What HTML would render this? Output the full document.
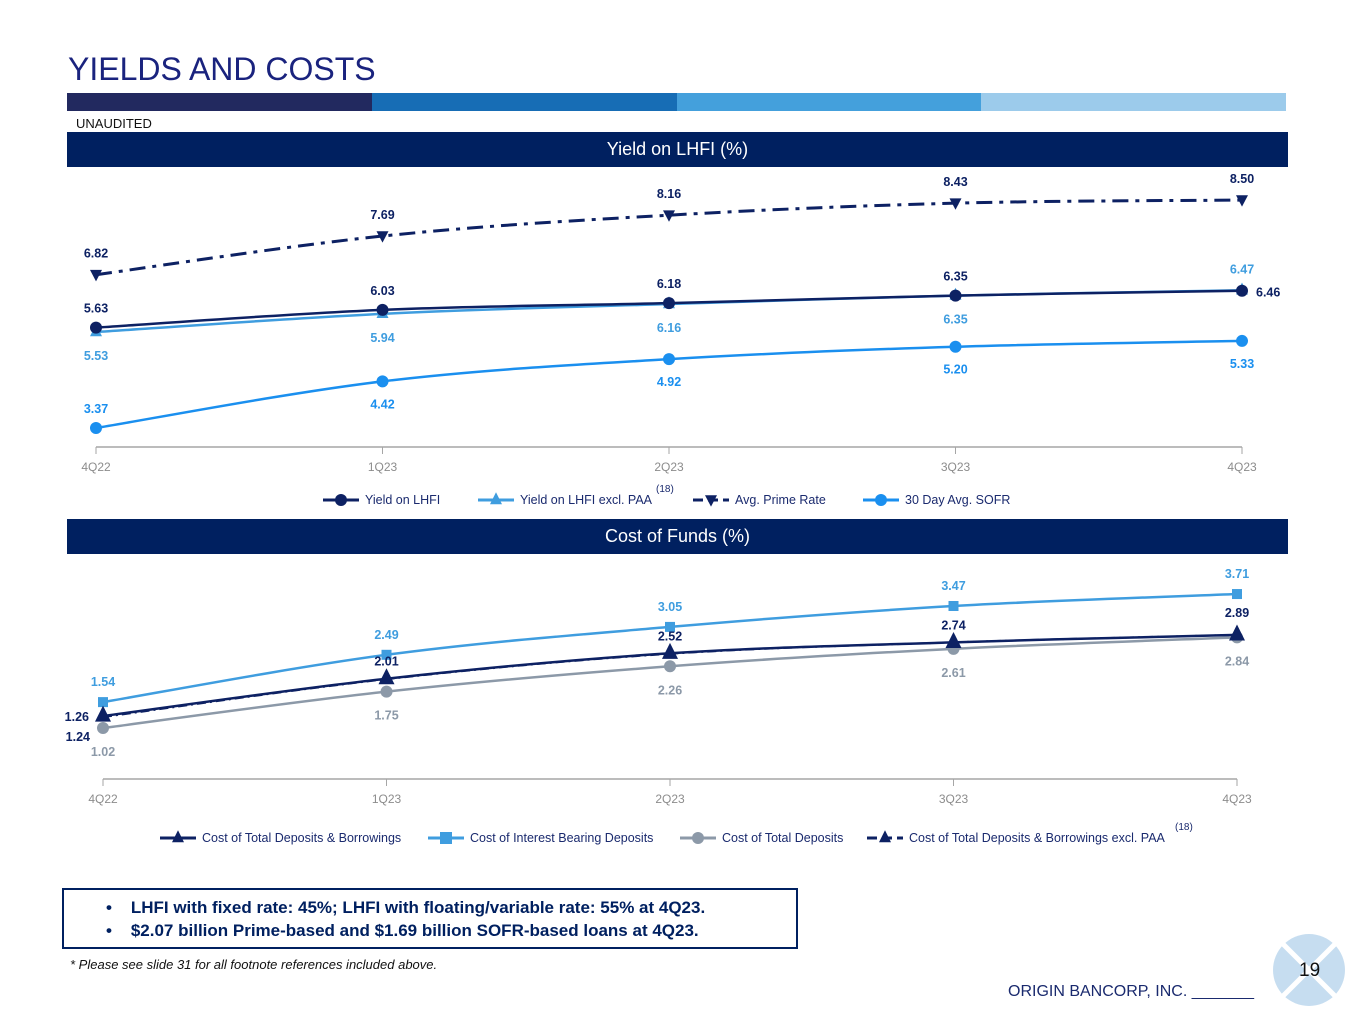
<!DOCTYPE html>
<html><head><meta charset="utf-8"><style>
body{margin:0;width:1365px;height:1024px;background:#fff;position:relative;font-family:"Liberation Sans",Arial,sans-serif;overflow:hidden}
.abs{position:absolute}
.band{position:absolute;left:67px;width:1221px;height:35px;background:#002060;color:#fff;font-size:18px;text-align:center;line-height:35px}
</style></head><body>
<div class="abs" style="left:68px;top:51px;font-size:32px;color:#1a237e;">YIELDS AND COSTS</div>
<div class="abs" style="left:67px;top:93px;height:18px;width:1219px;display:flex">
<div style="flex:1;background:#22295f"></div><div style="flex:1;background:#176db5"></div><div style="flex:1;background:#44a0dc"></div><div style="flex:1;background:#9ccbeb"></div></div>
<div class="abs" style="left:76px;top:116px;font-size:13px;color:#111">UNAUDITED</div>
<div class="band" style="top:132px">Yield on LHFI (%)</div>
<div class="band" style="top:519px">Cost of Funds (%)</div>
<svg class="abs" style="left:0;top:0" width="1365" height="1024" id="charts"></svg>
<div class="abs" style="left:62px;top:888px;width:732px;height:57px;border:2px solid #002060;font-size:17px;font-weight:bold;color:#002060">
<div style="position:absolute;left:42px;top:8px">•&nbsp;&nbsp;&nbsp;&nbsp;LHFI with fixed rate: 45%; LHFI with floating/variable rate: 55% at 4Q23.</div>
<div style="position:absolute;left:42px;top:31px">•&nbsp;&nbsp;&nbsp;&nbsp;$2.07 billion Prime-based and $1.69 billion SOFR-based loans at 4Q23.</div></div>
<div class="abs" style="left:70px;top:957px;font-size:13px;font-style:italic;color:#111">* Please see slide 31 for all footnote references included above.</div>
<div class="abs" style="left:1008px;top:983px;font-size:16px;color:#1a2a6e">ORIGIN BANCORP, INC. _______</div>
<svg class="abs" style="left:1272px;top:933px" width="74" height="74">
<circle cx="37" cy="37" r="36" fill="#c6ddf0"/><path d="M10 10L64 64M64 10L10 64" stroke="#fff" stroke-width="5"/></svg>
<div class="abs" style="left:1299px;top:960px;font-size:19px;color:#111">19</div>
<script>
const quarters=["4Q22","1Q23","2Q23","3Q23","4Q23"];
const yieldLHFI=[5.63,6.03,6.18,6.35,6.46];
const yieldExclPAA=[5.53,5.94,6.16,6.35,6.47];
const primeRate=[6.82,7.69,8.16,8.43,8.50];
const sofr=[3.37,4.42,4.92,5.20,5.33];
const costDepBorr=[1.26,2.01,2.52,2.74,2.89];
const costIntBearing=[1.54,2.49,3.05,3.47,3.71];
const costTotalDep=[1.02,1.75,2.26,2.61,2.84];
const costDepBorrExcl=[1.24,2.00,2.51,2.74,2.89];

const svg=document.getElementById('charts');
const NS='http://www.w3.org/2000/svg';
function mk(tag,attrs,parent){const e=document.createElementNS(NS,tag);for(const k in attrs)e.setAttribute(k,attrs[k]);(parent||svg).appendChild(e);return e;}
function txt(x,y,s,fill,size,bold,anchor){const t=mk('text',{x:x,y:y,fill:fill,'font-size':size,'font-weight':bold?'bold':'normal','text-anchor':anchor||'middle','font-family':'Liberation Sans, Arial, sans-serif'});t.textContent=s;return t;}
function smooth(pts){let d='M'+pts[0][0]+' '+pts[0][1];for(let i=0;i<pts.length-1;i++){const p0=pts[i-1]||pts[i],p1=pts[i],p2=pts[i+1],p3=pts[i+2]||p2;const t=0.17;d+=' C'+(p1[0]+(p2[0]-p0[0])*t)+' '+(p1[1]+(p2[1]-p0[1])*t)+' '+(p2[0]-(p3[0]-p1[0])*t)+' '+(p2[1]-(p3[1]-p1[1])*t)+' '+p2[0]+' '+p2[1];}return d;}
function marker(type,x,y,c,r){if(type==='circle')return mk('circle',{cx:x,cy:y,r:r,fill:c});if(type==='square')return mk('rect',{x:x-r,y:y-r,width:2*r,height:2*r,fill:c});if(type==='up')return mk('path',{d:`M${x} ${y-r*1.3}L${x+r} ${y+r*0.7}L${x-r} ${y+r*0.7}Z`,fill:c});if(type==='down')return mk('path',{d:`M${x} ${y+r*1.1}L${x+r} ${y-r*0.8}L${x-r} ${y-r*0.8}Z`,fill:c});}
function chart(cfg){
  const xs=i=>cfg.x0+i*(cfg.x1-cfg.x0)/(quarters.length-1);
  const ys=v=>cfg.yZero-v*cfg.k;
  const ax=mk('line',{x1:cfg.x0,x2:cfg.x1,y1:cfg.axisY,y2:cfg.axisY,stroke:'#a6a6a6','stroke-width':1.5});
  
  quarters.forEach((q,i)=>{mk('line',{x1:xs(i),x2:xs(i),y1:cfg.axisY,y2:cfg.axisY+7,stroke:'#a6a6a6'});const t=txt(xs(i),cfg.axisY+24,q,'#8c8c8c',12,false);});
  cfg.series.forEach(s=>{
    const pts=s.data.map((v,i)=>[xs(i),ys(v)]);
    const p=mk('path',{d:smooth(pts),fill:'none',stroke:s.color,'stroke-width':s.w||2.5,'stroke-dasharray':s.dash||'none'});
    
    pts.forEach((pt,i)=>{const m=marker(s.marker,pt[0],pt[1],s.color,s.r||6);
      if(s.labels===false)return;const o=(s.lo&&s.lo[i])||s.off;const t=txt(pt[0]+o[0],pt[1]+o[1],s.data[i].toFixed(2),s.lc||s.color,12.5,true,o[2]||'middle');});
  });
}
chart({name:'yield',x0:96,x1:1242,axisY:447,yZero:577.8,k:44.44,series:[
 {id:'prime-rate',data:primeRate,color:'#0d2163',marker:'down',dash:'16,7,4,7',w:3,off:[0,-17]},
 {id:'sofr',data:sofr,color:'#1a8fef',marker:'circle',off:[0,27],lo:[[0,-15],null,null,null,null]},
 {id:'yield-excl-paa',data:yieldExclPAA,color:'#3f9ddf',marker:'up',off:[0,28],lo:[null,null,null,null,[0,-17]]},
 {id:'yield-lhfi',data:yieldLHFI,color:'#0d2163',marker:'circle',r:6,off:[0,-15],lo:[null,null,null,null,[14,6,'start']]},
]});
chart({name:'cost',x0:103,x1:1237,axisY:779,yZero:778.8,k:49.8,series:[
 {id:'cost-int-bearing',data:costIntBearing,color:'#3f9ddf',marker:'square',r:5,off:[0,-16]},
 {id:'cost-total-dep',data:costTotalDep,color:'#8c99a8',marker:'circle',r:6,off:[0,28],lc:'#8c99a8'},
 {id:'cost-dep-borr-excl',data:costDepBorrExcl,color:'#0d2163',marker:'up',dash:'9,4,2,4',w:2,labels:false},
 {id:'cost-dep-borr',data:costDepBorr,color:'#0d2163',marker:'up',r:8,off:[0,-13],lo:[[-14,5,'end'],null,null,null,[0,-18]]},
]});
txt(90,741,'1.24','#0d2163',12.5,true,'end');

function legend(items,y,name){
  items.forEach(it=>{
    const g=mk('g',{});
    mk('line',{x1:it.x,x2:it.x+36,y1:y,y2:y,stroke:it.color,'stroke-width':3,'stroke-dasharray':it.dash||'none'},g);
    const m=marker(it.m,it.x+18,y,it.color,6);g.appendChild(m);
    const t=txt(it.x+42,y+4,it.label,'#1a2a6e',12.5,false,'start');g.appendChild(t);
    if(it.sup){const s=txt(it.sup,y-8,'(18)','#1a2a6e',10,false,'start');g.appendChild(s);}
  });
}
legend([
 {x:323,color:'#0d2163',m:'circle',label:'Yield on LHFI'},
 {x:478,color:'#3f9ddf',m:'up',label:'Yield on LHFI excl. PAA',sup:656},
 {x:693,color:'#0d2163',m:'down',label:'Avg. Prime Rate',dash:'10,5'},
 {x:863,color:'#1a8fef',m:'circle',label:'30 Day Avg. SOFR'},
],500,'yield');
legend([
 {x:160,color:'#0d2163',m:'up',label:'Cost of Total Deposits & Borrowings'},
 {x:428,color:'#3f9ddf',m:'square',label:'Cost of Interest Bearing Deposits'},
 {x:680,color:'#8c99a8',m:'circle',label:'Cost of Total Deposits'},
 {x:867,color:'#0d2163',m:'up',label:'Cost of Total Deposits & Borrowings excl. PAA',dash:'10,5',sup:1175},
],838,'cost');
</script>
</body></html>
